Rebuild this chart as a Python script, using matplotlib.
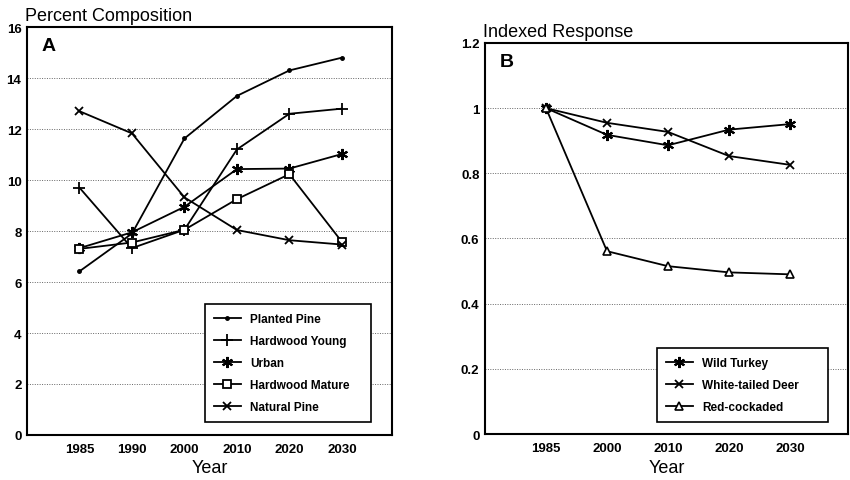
import matplotlib
matplotlib.use("Agg")
import matplotlib.pyplot as plt

plt.rcParams['font.family'] = ['Liberation Sans', 'DejaVu Sans']

# Panel A data
years_a = ["1985", "1990", "2000", "2010", "2020", "2030"]
planted_pine = [6.42, 7.9, 11.63, 13.3, 14.3, 14.8]
hardwood_young = [9.7, 7.33, 8.05, 11.2, 12.6, 12.8]
urban = [7.33, 7.95, 8.95, 10.43, 10.45, 11.02]
hardwood_mature = [7.3, 7.55, 8.05, 9.25, 10.23, 7.58]
natural_pine = [12.7, 11.83, 9.32, 8.04, 7.64, 7.47]
yticks_a = [0, 2, 4, 6, 8, 10, 12, 14, 16]

# Panel B data
years_b = ["1985", "2000", "2010", "2020", "2030"]
wild_turkey = [1.0, 0.918, 0.886, 0.934, 0.951]
white_tailed_deer = [1.0, 0.955, 0.927, 0.853, 0.826]
red_cockaded = [1.0, 0.561, 0.515, 0.496, 0.49]
yticks_b = [0, 0.2, 0.4, 0.6, 0.8, 1.0, 1.2]
yticklabels_b = ["0", "0.2", "0.4", "0.6", "0.8", "1", "1.2"]

fig = plt.figure(figsize=(8.5, 4.81), dpi=100)
axA = fig.add_axes([0.0318, 0.0936, 0.429, 0.848])
axB = fig.add_axes([0.5706, 0.0956, 0.427, 0.813])

asterisk = (6, 2, 0)
lw = 1.3
common = dict(color='black', lw=lw)

xa = list(range(len(years_a)))
axA.plot(xa, planted_pine, marker='o', ms=2.5, label='Planted Pine', **common)
axA.plot(xa, hardwood_young, marker='+', ms=8, mew=1.3, label='Hardwood Young', **common)
axA.plot(xa, urban, marker=asterisk, ms=8, mew=1.5, label='Urban', **common)
axA.plot(xa, hardwood_mature, marker='s', ms=5.5, mew=1.3, mfc='white', mec='black', label='Hardwood Mature', **common)
axA.plot(xa, natural_pine, marker='x', ms=6, mew=1.3, label='Natural Pine', **common)

xb = list(range(len(years_b)))
axB.plot(xb, wild_turkey, marker=asterisk, ms=8, mew=1.5, label='Wild Turkey', **common)
axB.plot(xb, white_tailed_deer, marker='x', ms=6, mew=1.3, label='White-tailed Deer', **common)
axB.plot(xb, red_cockaded, marker='^', ms=6, mew=1.2, mfc='white', mec='black', label='Red-cockaded', **common)

for ax, yt, ytl, xt, xl, ylim, ylab, letter in [
    (axA, yticks_a, [str(v) for v in yticks_a], xa, years_a, (0, 16), 'Percent Composition', 'A'),
    (axB, yticks_b, yticklabels_b, xb, years_b, (0, 1.2), 'Indexed Response', 'B'),
]:
    ax.set_xlim(-1, len(xl) - 0.05)
    ax.set_ylim(*ylim)
    ax.set_yticks(yt)
    ax.set_yticklabels(ytl, fontsize=9.5, fontweight='bold')
    ax.set_xticks(xt)
    ax.set_xticklabels(xl, fontsize=9.5, fontweight='bold')
    ax.tick_params(length=0, pad=6)
    ax.tick_params(axis='y', pad=4)
    ax.yaxis.grid(True, linestyle=(0, (1, 1.5)), color='#666666', lw=0.7)
    ax.set_axisbelow(True)
    for s in ax.spines.values():
        s.set_linewidth(1.5)
    ax.set_xlabel('Year', fontsize=13, labelpad=3)
    ax.text(-0.005, 1.008, ylab, transform=ax.transAxes, fontsize=13, ha='left', va='bottom')
    ax.text(0.04, 0.975, letter, transform=ax.transAxes, fontsize=14, fontweight='bold', ha='left', va='top')

legA = axA.legend(loc='lower left', bbox_to_anchor=(0.488, 0.032, 0.454, 0.282), mode='expand',
                  borderaxespad=0, frameon=True, fancybox=False,
                  edgecolor='black', framealpha=1, prop={'size': 8.5, 'weight': 'bold'},
                  handlelength=2.3, labelspacing=0.85, borderpad=0.75)
legA.get_frame().set_linewidth(1.2)
legB = axB.legend(loc='lower left', bbox_to_anchor=(0.474, 0.031, 0.471, 0.19), mode='expand',
                  borderaxespad=0, frameon=True, fancybox=False,
                  edgecolor='black', framealpha=1, prop={'size': 8.5, 'weight': 'bold'},
                  handlelength=2.3, labelspacing=0.85, borderpad=0.75)
legB.get_frame().set_linewidth(1.2)

fig.savefig('out.png', dpi=100)
